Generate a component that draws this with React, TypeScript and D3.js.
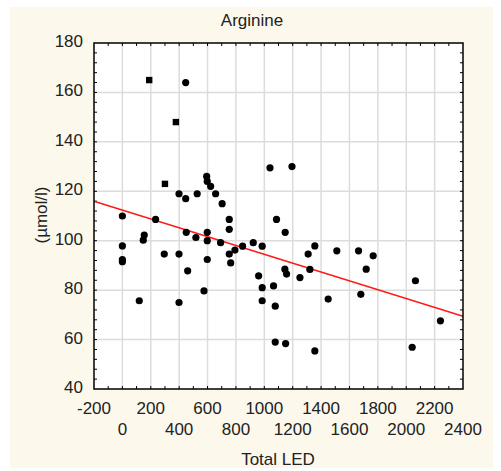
import { scaleLinear, range } from 'd3'

// Total LED vs arginine
const totalLed = [
  189, 446, 377, 1040, 1195, 300, 399, 446, 527, 594, 598, 622, 657, 703, 0, 234, 753, 1086,
  753, 1147, 154, 147, 450, 518, 598, 598, 692, 0, 0, 0, 295, 399, 460, 598, 575, 119, 399,
  753, 763, 793, 847, 922, 985, 960, 985, 985, 1065, 1077, 1077, 1150, 1145, 1157, 1251, 1356,
  1309, 1511, 1664, 1767, 1718, 1321, 1450, 1680, 2065, 2241, 2042, 1356,
]
const arginine = [
  165, 164, 148, 129.5, 130, 123, 119, 117, 119, 126, 124, 122, 119, 115, 110, 108.6, 108.6, 108.6,
  104.6, 103.4, 102.3, 100.2, 103.4, 101.3, 103.4, 100, 99.2, 97.9, 92.4, 91.5, 94.6, 94.6, 87.8, 92.4, 79.7, 75.7, 75,
  94.6, 91, 96.2, 97.8, 99.2, 97.8, 85.8, 81, 75.7, 81.7, 73.5, 59, 58.4, 88.5, 86.5, 85.1, 97.9,
  94.6, 95.9, 95.9, 93.9, 88.5, 88.4, 76.4, 78.3, 83.8, 67.6, 56.9, 55.4,
]
// a few markers are drawn as squares
const squareIdx = [0, 2, 5]

const fitIntercept = 112.4
const fitSlope = -0.0179

const xTicksTop = [-200, 200, 600, 1000, 1400, 1800, 2200]
const xTicksBottom = [0, 400, 800, 1200, 1600, 2000, 2400]
const yTicks = [40, 60, 80, 100, 120, 140, 160, 180]

const font = '"Liberation Sans", Arial, sans-serif'

export default function App() {
  const left = 94
  const right = 463
  const top = 43
  const bottom = 389

  const x = scaleLinear().domain([-200, 2400]).range([left, right])
  const y = scaleLinear().domain([40, 180]).range([bottom, top])

  const gridX = range(0, 2400, 200)
  const minorX = range(-100, 2400, 100)
  const minorY = range(44, 180, 4)

  const pts = totalLed.map((v, i) => ({ x: v, y: arginine[i], sq: squareIdx.includes(i) }))

  return (
    <svg width={501} height={471} style={{ position: 'absolute', left: 0, top: 0 }}>
      <rect x={0} y={0} width={501} height={471} fill="#fff" />
      <rect x={10} y={7} width={483} height={461} fill="#fdf8ec" />
      <rect x={left} y={top} width={right - left} height={bottom - top} fill="#fff" />

      {gridX.map((v) => (
        <line key={'gx' + v} x1={x(v)} x2={x(v)} y1={top} y2={bottom} stroke="#dcdcdc" strokeWidth={1.5} />
      ))}
      {yTicks.slice(1, -1).map((v) => (
        <line key={'gy' + v} x1={left} x2={right} y1={y(v)} y2={y(v)} stroke="#dcdcdc" strokeWidth={1.5} />
      ))}

      {minorX.map((v) => (
        <g key={'mx' + v}>
          <line x1={x(v)} x2={x(v)} y1={top} y2={top + 3} stroke="#000" />
          <line x1={x(v)} x2={x(v)} y1={bottom} y2={bottom - 3} stroke="#000" />
        </g>
      ))}
      {minorY.map((v) => (
        <g key={'my' + v}>
          <line x1={left} x2={left + 3} y1={y(v)} y2={y(v)} stroke="#000" />
          <line x1={right} x2={right - 3} y1={y(v)} y2={y(v)} stroke="#000" />
        </g>
      ))}

      <line
        x1={x(-200)}
        x2={x(2400)}
        y1={y(fitIntercept + fitSlope * -200)}
        y2={y(fitIntercept + fitSlope * 2400)}
        stroke="#ff1a1a"
        strokeWidth={1.5}
      />

      {pts.map((p, i) =>
        p.sq ? (
          <rect key={i} x={x(p.x) - 3.2} y={y(p.y) - 3.2} width={6.4} height={6.4} fill="#000" />
        ) : (
          <circle key={i} cx={x(p.x)} cy={y(p.y)} r={3.6} fill="#000" />
        )
      )}

      <rect x={left} y={top} width={right - left} height={bottom - top} fill="none" stroke="#000" strokeWidth={1.5} />

      <g fontFamily={font} fontSize={17} fill="#222">
        <text x={252} y={26} textAnchor="middle">Arginine</text>
        {yTicks.map((v) => (
          <text key={'yl' + v} x={83} y={y(v) + 4} textAnchor="end">{v}</text>
        ))}
        {xTicksTop.map((v) => (
          <text key={'xt' + v} x={x(v)} y={414} textAnchor="middle">{v}</text>
        ))}
        {xTicksBottom.map((v) => (
          <text key={'xb' + v} x={x(v)} y={435} textAnchor="middle">{v}</text>
        ))}
        <text x={278} y={465} textAnchor="middle">Total LED</text>
        <text transform="translate(47,215) rotate(-90)" textAnchor="middle">(µmol/l)</text>
      </g>
    </svg>
  )
}
